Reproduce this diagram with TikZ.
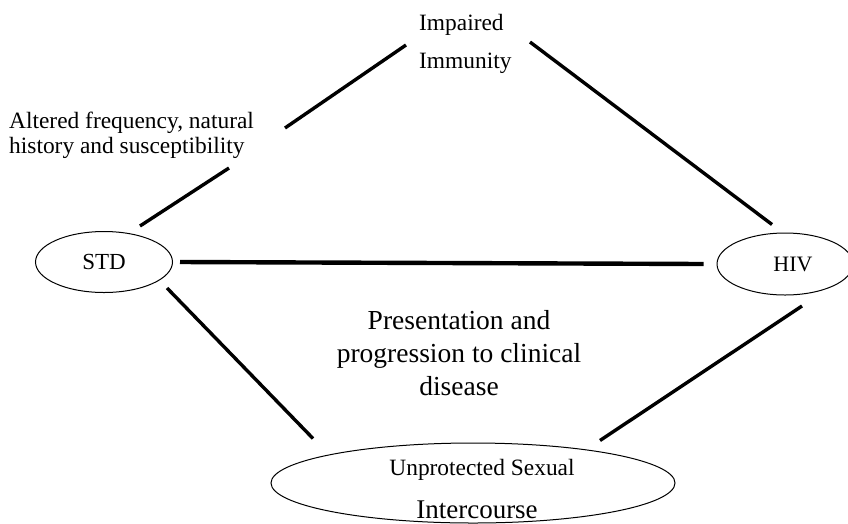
\documentclass[tikz,border=0pt]{standalone}
\usepackage{fontspec}
\setmainfont{Liberation Serif}
\usetikzlibrary{shapes.geometric}
\begin{document}
\begin{tikzpicture}[x=1pt,y=-1pt,
  link/.style={line width=3.4pt, black},
  hlink/.style={line width=4.4pt, black},
  oval/.style={ellipse, draw, line width=1pt, inner sep=0pt},
  small/.style={inner sep=0pt, font=\fontsize{23.4}{26}\selectfont},
  big/.style={inner sep=0pt, font=\fontsize{27.5}{33}\selectfont}]
\useasboundingbox (0,0) rectangle (848,523);
\clip (0,0) rectangle (848,523);
\fill[white] (0,0) rectangle (848,523);

% ellipses
\node[oval, minimum width=137pt, minimum height=61pt, font=\fontsize{23}{26}\selectfont] (std) at (104,262) {STD};
\node[oval, minimum width=136pt, minimum height=62pt, font=\fontsize{22}{26}\selectfont] (hiv) at (785,264) {\hspace*{16pt}HIV};
\node[oval, minimum width=404pt, minimum height=80pt] (usi) at (473,483) {};

% texts
\node[small, anchor=base west] (imp1) at (419,30) {Impaired};
\node[small, anchor=base west] (imp2) at (419,68) {Immunity};
\node[small, anchor=base west] (alt1) at (9,128) {Altered frequency, natural};
\node[small, anchor=base west] (alt2) at (9,153) {history and susceptibility};
\node[big, anchor=base] (pr1) at (459,329) {Presentation and};
\node[big, anchor=base] (pr2) at (459,362) {progression to clinical};
\node[big, anchor=base] (pr3) at (459,395) {disease};
\node[small, anchor=base] (usi1) at (482,475) {Unprotected Sexual};
\node[big, font=\fontsize{27}{33}\selectfont, anchor=base] (usi2) at (477,518) {Intercourse};

% connector end points
\coordinate (impL) at (406,45);
\coordinate (impR) at (530,42);
\coordinate (gapT) at (285,128);
\coordinate (gapB) at (229,168);

% connectors
\draw[link] ([shift={(36,-36)}]std.center) -- (gapB);
\draw[link] (gapT) -- (impL);
\draw[link] (impR) -- ([shift={(-13,-8)}]hiv.north);
\draw[hlink] ([xshift=7pt]std.east) -- ([xshift=-13pt]hiv.west);
\draw[link] ([shift={(63,26)}]std.center) -- ([shift={(-160,-4)}]usi.north);
\draw[link] ([shift={(17,42)}]hiv.center) -- ([shift={(127,-2)}]usi.north);
\end{tikzpicture}
\end{document}
